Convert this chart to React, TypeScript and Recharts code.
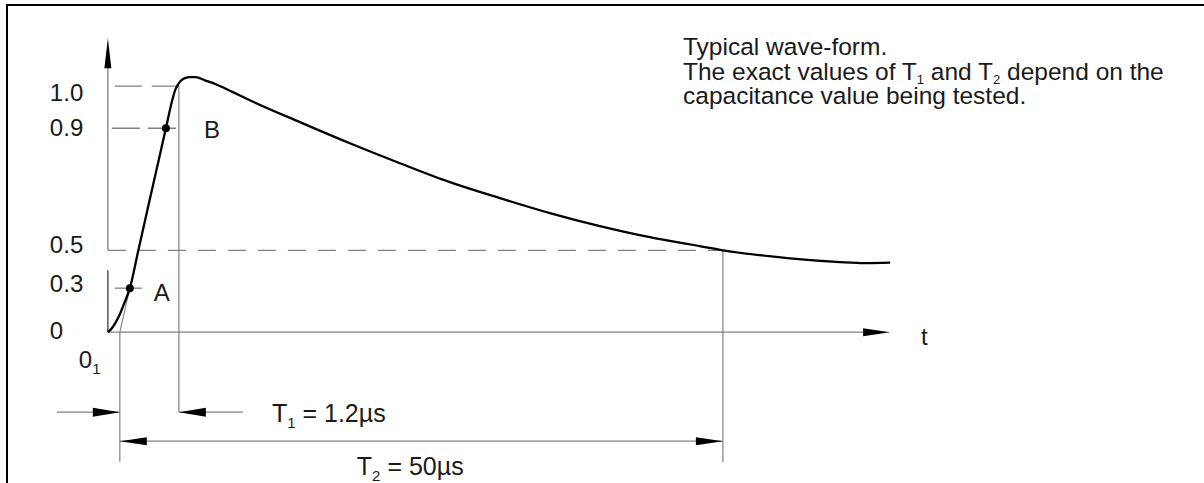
import React from "react";
import {
  ComposedChart,
  Line,
  Scatter,
  XAxis,
  YAxis,
  ReferenceLine,
} from "recharts";

// The sketch is not to scale: heights are measured relative to the 1.0 line,
// time in drawing units along the t axis (origin 0, arrow tip 100).
const levelLabels = ["0", "0.3", "0.5", "0.9", "1.0"];
const levelHeights = [0, 0.179, 0.333, 0.829, 1.0];

// typical wave-form
const waveT = [
  0, 0.51, 1.02, 1.53, 2.05, 2.81, 3.87, 5.34, 7.42, 8.18, 8.63, 8.95, 9.33,
  9.84, 10.48, 11.25, 12.4, 13.94, 15.98, 18.15, 24.55, 30.94, 37.33, 43.72,
  50.12, 56.51, 62.9, 69.29, 75.68, 78.62, 83.35, 87.19, 93.58, 96.78, 100,
];
const waveV = [
  0, 0.016, 0.041, 0.073, 0.114, 0.179, 0.329, 0.537, 0.829, 0.937, 0.986,
  1.006, 1.022, 1.033, 1.037, 1.037, 1.024, 1.006, 0.976, 0.943, 0.854, 0.768,
  0.687, 0.61, 0.545, 0.484, 0.431, 0.386, 0.35, 0.333, 0.313, 0.3, 0.285,
  0.281, 0.283,
];

// A (30 %) and B (90 %) on the front
const pointNames = ["A", "B"];
const pointT = [2.81, 7.42];
const pointV = [0.179, 0.829];

// marks on the time axis
const T_O1 = 1.53; // virtual origin 0₁
const T_T1 = 9.08; // end of T1
const T_T2 = 78.62; // end of T2 (half value)
const T_END = 100;

const t1Text = ["T", "1", " = 1.2µs"];
const t2Text = ["T", "2", " = 50µs"];

// layout (drawing units)
const ROW_T1 = -0.325;
const ROW_T2 = -0.443;
const ROW_FOOT = -0.528;
const LEFT_TAIL = -6.52;
const T1_TAIL = 17.26;

const FONT = "'Liberation Sans', Arial, Helvetica, sans-serif";
const INK = "#1a1a1a";
const THIN = "#808080";

const wave = waveT.map((t, i) => ({ x: t, y: waveV[i] }));
const points = pointNames.map((n, i) => ({ x: pointT[i], y: pointV[i], name: n }));
const levels = levelLabels.map((l, i) => ({ x: 0, y: levelHeights[i], name: l }));

const arrows = [
  { x: 0, y: 1.195, dir: "up", len: 30, w: 3.5 },
  { x: T_END, y: 0, dir: "right", len: 27, w: 4 },
  { x: T_O1, y: ROW_T1, dir: "right", len: 27, w: 4.5 },
  { x: T_T1, y: ROW_T1, dir: "left", len: 27, w: 4.5 },
  { x: T_O1, y: ROW_T2, dir: "left", len: 27, w: 4 },
  { x: T_T2, y: ROW_T2, dir: "right", len: 27, w: 4 },
];

const notes = [
  { x: T_O1, y: 0, kind: "o1" },
  { x: T_END, y: 0, kind: "t" },
  { x: T_T1, y: ROW_T1, kind: "T1" },
  { x: T_O1, y: ROW_T2, kind: "T2" },
];

const levelDy: Record<string, number> = { "0": -2, "0.3": -5, "0.5": -6, "0.9": -1, "1.0": 6 };
const pointOffset: Record<string, [number, number]> = { A: [24, 13], B: [38, 10] };

const ArrowHead = (p: any) => {
  const { cx, cy } = p;
  const d = p.payload ?? p;
  const L = d.len;
  const W = d.w;
  let pts = "";
  if (d.dir === "up") pts = `${cx},${cy} ${cx - W},${cy + L} ${cx + W},${cy + L}`;
  if (d.dir === "right") pts = `${cx},${cy} ${cx - L},${cy - W} ${cx - L},${cy + W}`;
  if (d.dir === "left") pts = `${cx},${cy} ${cx + L},${cy - W} ${cx + L},${cy + W}`;
  return <polygon points={pts} fill="#000" />;
};

const PointDot = (p: any) => {
  const { cx, cy } = p;
  const d = p.payload ?? p;
  const [dx, dy] = pointOffset[d.name] ?? [20, 10];
  return (
    <g>
      <circle cx={cx} cy={cy} r={4} fill="#000" />
      <text x={cx + dx} y={cy + dy} fontFamily={FONT} fontSize={24} fill={INK}>
        {d.name}
      </text>
    </g>
  );
};

const LevelText = (p: any) => {
  const { cx, cy } = p;
  const d = p.payload ?? p;
  return (
    <text
      x={cx - 58}
      y={cy + 8.5 + (levelDy[d.name] ?? 0)}
      fontFamily={FONT}
      fontSize={24}
      fill={INK}
    >
      {d.name}
    </text>
  );
};

const Subbed = ({ x, y, parts, size }: any) => (
  <text x={x} y={y} fontFamily={FONT} fontSize={size} fill={INK}>
    {parts[0]}
    <tspan fontSize={15} dy={6}>
      {parts[1]}
    </tspan>
    <tspan dy={-6}>{parts[2]}</tspan>
  </text>
);

const NoteText = (p: any) => {
  const { cx, cy } = p;
  const d = p.payload ?? p;
  if (d.kind === "o1")
    return <Subbed x={cx - 41} y={cy + 36} parts={["0", "1", ""]} size={24} />;
  if (d.kind === "t")
    return (
      <text x={cx + 31} y={cy + 13} fontFamily={FONT} fontSize={24} fill={INK}>
        t
      </text>
    );
  if (d.kind === "T1") return <Subbed x={cx + 93} y={cy + 10} parts={t1Text} size={25} />;
  if (d.kind === "T2") return <Subbed x={cx + 237} y={cy + 34} parts={t2Text} size={25} />;
  return <g />;
};

const subStyle: React.CSSProperties = {
  fontSize: 13,
  lineHeight: 0,
  position: "relative",
  top: 4,
};

export default function App() {
  return (
    <div
      style={{
        position: "absolute",
        left: 0,
        top: 0,
        width: 1204,
        height: 483,
        background: "#fff",
        overflow: "hidden",
      }}
    >
      <div
        style={{
          position: "absolute",
          left: 6,
          top: 4,
          width: 1204,
          height: 483,
          borderLeft: "2px solid #000",
          borderTop: "2px solid #000",
        }}
      />
      <ComposedChart
        width={1204}
        height={483}
        margin={{ top: 37, right: 1, bottom: 0, left: 14 }}
        style={{ position: "absolute", left: 0, top: 0 }}
      >
        <XAxis type="number" dataKey="x" domain={[-12, 140]} hide />
        <YAxis type="number" dataKey="y" domain={[-0.613, 1.2]} hide />

        {/* axes */}
        <ReferenceLine segment={[{ x: 0, y: 0 }, { x: 0, y: 0.252 }]} stroke="#555" strokeWidth={1.5} />
        <ReferenceLine segment={[{ x: 0, y: 0.333 }, { x: 0, y: 1.1 }]} stroke={THIN} strokeWidth={1.3} />
        <ReferenceLine segment={[{ x: 0, y: 0 }, { x: 97, y: 0 }]} stroke={THIN} strokeWidth={1.3} />

        {/* level helper lines */}
        <ReferenceLine
          segment={[{ x: 0.89, y: 1.0 }, { x: T_T1, y: 1.0 }]}
          stroke={THIN}
          strokeWidth={1.3}
          strokeDasharray="27 10"
        />
        <ReferenceLine
          segment={[{ x: 0.51, y: 0.829 }, { x: T_T1, y: 0.829 }]}
          stroke={THIN}
          strokeWidth={1.3}
          strokeDasharray="28 8"
        />
        <ReferenceLine
          segment={[{ x: 0, y: 0.333 }, { x: T_T2, y: 0.333 }]}
          stroke={THIN}
          strokeWidth={1.3}
          strokeDasharray="18 12"
        />
        <ReferenceLine segment={[{ x: 0.89, y: 0.179 }, { x: 4.35, y: 0.179 }]} stroke={THIN} strokeWidth={1.3} />
        <ReferenceLine segment={[{ x: T_O1, y: 0 }, { x: 2.81, y: 0.179 }]} stroke={THIN} strokeWidth={1.1} />

        {/* extension lines */}
        <ReferenceLine segment={[{ x: T_O1, y: 0 }, { x: T_O1, y: ROW_FOOT }]} stroke={THIN} strokeWidth={1.2} />
        <ReferenceLine segment={[{ x: T_T1, y: 1.0 }, { x: T_T1, y: ROW_T1 }]} stroke={THIN} strokeWidth={1.2} />
        <ReferenceLine segment={[{ x: T_T2, y: 0.333 }, { x: T_T2, y: ROW_FOOT }]} stroke={THIN} strokeWidth={1.2} />

        {/* dimension lines */}
        <ReferenceLine segment={[{ x: LEFT_TAIL, y: ROW_T1 }, { x: T_O1, y: ROW_T1 }]} stroke={THIN} strokeWidth={1.2} />
        <ReferenceLine segment={[{ x: T_T1, y: ROW_T1 }, { x: T1_TAIL, y: ROW_T1 }]} stroke={THIN} strokeWidth={1.2} />
        <ReferenceLine segment={[{ x: T_O1, y: ROW_T2 }, { x: T_T2, y: ROW_T2 }]} stroke={THIN} strokeWidth={1.2} />

        <Line
          data={wave}
          dataKey="y"
          type="monotone"
          stroke="#000"
          strokeWidth={2.3}
          dot={false}
          activeDot={false}
          isAnimationActive={false}
        />
        <Scatter data={arrows} shape={ArrowHead} isAnimationActive={false} />
        <Scatter data={points} shape={PointDot} isAnimationActive={false} />
        <Scatter data={levels} shape={LevelText} isAnimationActive={false} />
        <Scatter data={notes} shape={NoteText} isAnimationActive={false} />
      </ComposedChart>
      <div
        style={{
          position: "absolute",
          left: 683,
          top: 35,
          fontFamily: FONT,
          fontSize: 24.5,
          lineHeight: "24.5px",
          color: INK,
          whiteSpace: "nowrap",
        }}
      >
        <div>Typical wave-form.</div>
        <div>
          The exact values of T<span style={subStyle}>1</span> and T
          <span style={subStyle}>2</span> depend on the
        </div>
        <div>capacitance value being tested.</div>
      </div>
    </div>
  );
}
